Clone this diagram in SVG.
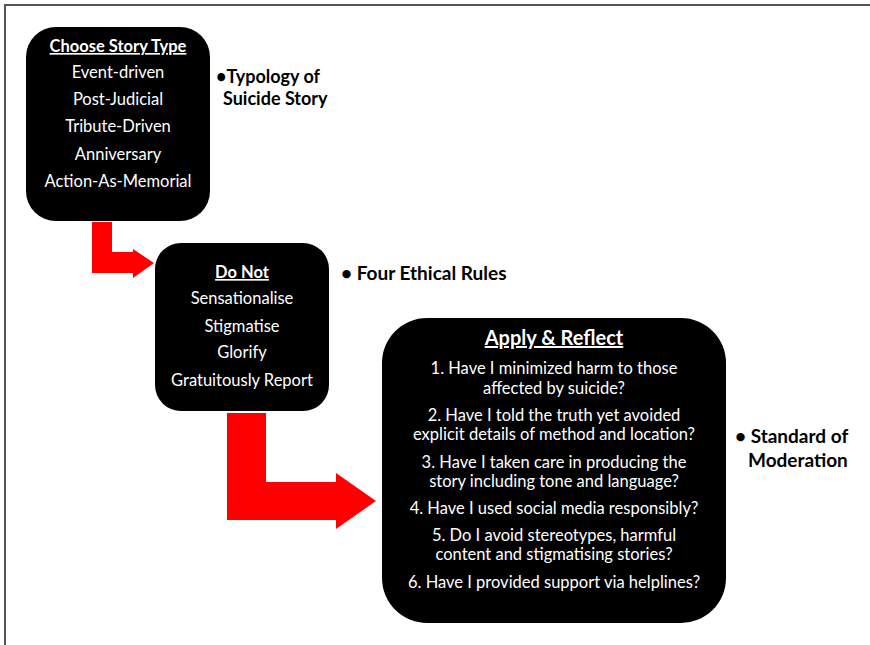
<svg xmlns="http://www.w3.org/2000/svg" width="870" height="645" viewBox="0 0 870 645">
<style>
.box{fill:#000}
.arr{fill:#ff0000}
.t{font-family:Lato,"Liberation Sans",sans-serif;fill:#fff;text-anchor:middle;font-size:16.5px}
.h{font-weight:bold;text-decoration:underline}
.lbl{font-family:Lato,"Liberation Sans",sans-serif;fill:#000;font-weight:bold;font-size:19px}
</style>
<rect width="870" height="645" fill="#fff"/>
<path d="M5 645 V5 H870" fill="none" stroke="#555" stroke-width="2"/>
<g id="connectors">
<path class="arr" d="M92 222 H112 V252 H133 V249 L154 263 L133 278 V273 H92 Z"/>
<path class="arr" d="M227 413 H266 V482 H336 V473 L376 501 L336 529 V520 H227 Z"/>
</g>
<g id="node-story-type">
<rect class="box" x="26" y="27" width="184" height="194" rx="30"/>
<text class="t h" x="118" y="52">Choose Story Type</text>
<text class="t" x="118" y="78">Event-driven</text>
<text class="t" x="118" y="105">Post-Judicial</text>
<text class="t" x="118" y="132">Tribute-Driven</text>
<text class="t" x="118" y="160">Anniversary</text>
<text class="t" x="118" y="187">Action-As-Memorial</text>
</g>
<g id="label-typology">
<text class="lbl" x="216" y="83" style="font-size:18px">•Typology of</text>
<text class="lbl" x="223" y="105" style="font-size:18px">Suicide Story</text>
</g>
<g id="node-do-not">
<rect class="box" x="155" y="243" width="174" height="168" rx="26"/>
<text class="t h" x="242" y="278">Do Not</text>
<text class="t" x="242" y="304">Sensationalise</text>
<text class="t" x="242" y="332">Stigmatise</text>
<text class="t" x="242" y="358">Glorify</text>
<text class="t" x="242" y="386">Gratuitously Report</text>
</g>
<g id="label-ethical">
<text class="lbl" x="341" y="280">• Four Ethical Rules</text>
</g>
<g id="node-apply">
<rect class="box" x="382" y="318" width="344" height="305" rx="45"/>
<text class="t h" x="554" y="345" style="font-size:20px">Apply &amp; Reflect</text>
<text class="t" x="554" y="374">1. Have I minimized harm to those</text>
<text class="t" x="554" y="394">affected by suicide?</text>
<text class="t" x="554" y="421">2. Have I told the truth yet avoided</text>
<text class="t" x="554" y="440">explicit details of method and location?</text>
<text class="t" x="554" y="468">3. Have I taken care in producing the</text>
<text class="t" x="554" y="487">story including tone and language?</text>
<text class="t" x="554" y="514">4. Have I used social media responsibly?</text>
<text class="t" x="554" y="541">5. Do I avoid stereotypes, harmful</text>
<text class="t" x="554" y="560">content and stigmatising stories?</text>
<text class="t" x="554" y="588">6. Have I provided support via helplines?</text>
</g>
<g id="label-moderation">
<text class="lbl" x="735" y="443">• Standard of</text>
<text class="lbl" x="748" y="467">Moderation</text>
</g>
</svg>
